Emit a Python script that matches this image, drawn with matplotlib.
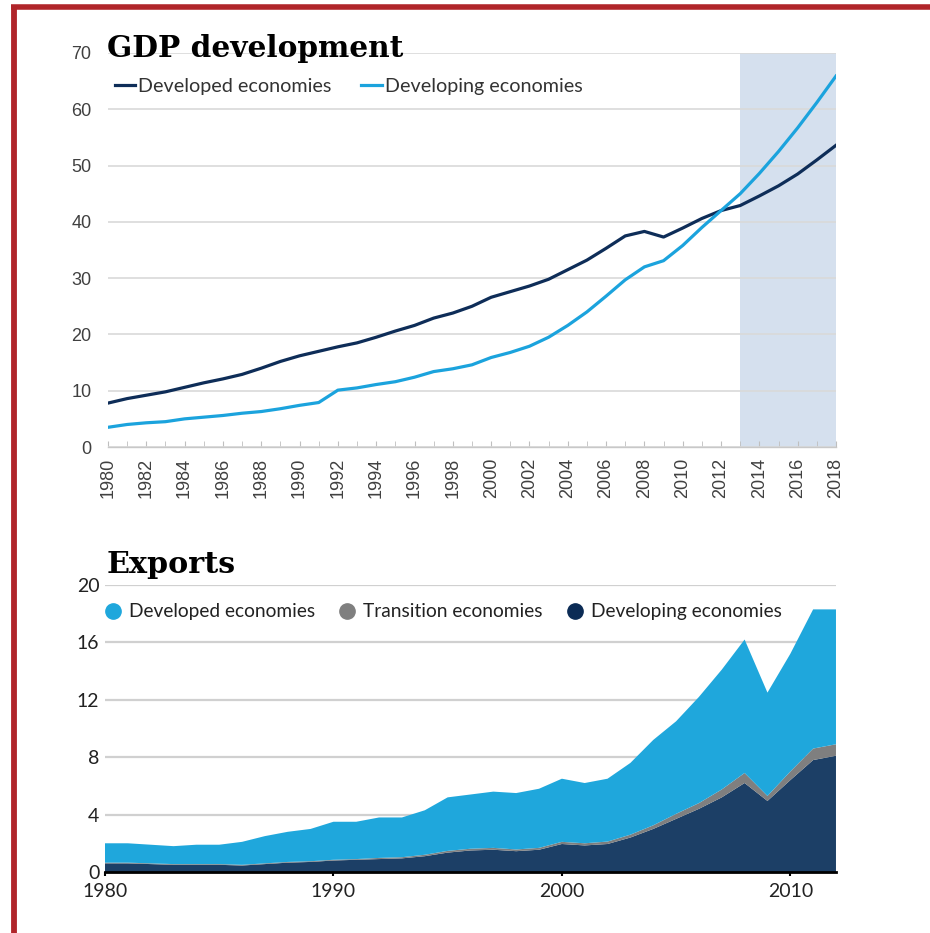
import matplotlib
matplotlib.use("Agg")
import matplotlib.pyplot as plt
import numpy as np
from matplotlib.lines import Line2D

# GDP development (top panel)
gdp_years = list(range(1980, 2019))
gdp_developed = [7.8, 8.6, 9.2, 9.8, 10.6, 11.4, 12.1, 12.9, 14.0, 15.2,
                 16.2, 17.0, 17.8, 18.5, 19.5, 20.6, 21.6, 22.9, 23.8, 25.0,
                 26.6, 27.6, 28.6, 29.8, 31.5, 33.2, 35.3, 37.5, 38.3, 37.3,
                 38.9, 40.6, 42.0, 42.9, 44.6, 46.4, 48.5, 51.0, 53.6]
gdp_developing = [3.5, 4.0, 4.3, 4.5, 5.0, 5.3, 5.6, 6.0, 6.3, 6.8,
                  7.4, 7.9, 10.1, 10.5, 11.1, 11.6, 12.4, 13.4, 13.9, 14.6,
                  15.9, 16.8, 17.9, 19.5, 21.6, 24.0, 26.8, 29.7, 32.0, 33.1,
                  35.8, 39.0, 42.0, 45.0, 48.6, 52.5, 56.7, 61.2, 65.9]
forecast_start, forecast_end = 2013, 2018

# Exports (bottom panel)
exp_years = list(range(1980, 2013))
exp_developing = [0.6, 0.6, 0.55, 0.5, 0.5, 0.5, 0.45, 0.55, 0.65, 0.7,
                  0.8, 0.85, 0.9, 0.95, 1.1, 1.35, 1.5, 1.55, 1.45, 1.55,
                  1.95, 1.85, 1.95, 2.4, 3.0, 3.7, 4.4, 5.2, 6.2, 4.95,
                  6.4, 7.8, 8.1]
exp_transition = [0.05, 0.05, 0.05, 0.05, 0.05, 0.05, 0.05, 0.05, 0.05, 0.05,
                  0.05, 0.05, 0.08, 0.08, 0.1, 0.12, 0.12, 0.13, 0.12, 0.13,
                  0.15, 0.15, 0.17, 0.2, 0.25, 0.35, 0.4, 0.55, 0.7, 0.35,
                  0.6, 0.8, 0.8]
exp_total = [2.0, 2.0, 1.9, 1.8, 1.9, 1.9, 2.1, 2.5, 2.8, 3.0,
             3.5, 3.5, 3.8, 3.8, 4.3, 5.2, 5.4, 5.6, 5.5, 5.8,
             6.5, 6.2, 6.5, 7.6, 9.2, 10.5, 12.2, 14.1, 16.2, 12.5,
             15.2, 18.3, 18.3]
exp_developed = [t - d - tr for t, d, tr in zip(exp_total, exp_developing, exp_transition)]

dark_navy = '#0e2d58'
light_blue = '#1ba3dd'
area_blue = '#1fa7dc'
area_grey = '#7f7f7f'
area_navy = '#1c3f66'

fig = plt.figure(figsize=(9.3, 9.33), dpi=100)

# red frame (left and top)
fig.add_artist(Line2D([0.015, 0.015], [0, 0.9925], color='#b0252a', lw=4.2,
                      transform=fig.transFigure, solid_capstyle='butt'))
fig.add_artist(Line2D([0.012, 1.0], [0.992, 0.992], color='#b0252a', lw=4.0,
                      transform=fig.transFigure, solid_capstyle='butt'))

# ---- top panel ----
ax1 = fig.add_axes([0.1161, 0.5209, 0.7828, 0.4223])
ax1.axvspan(forecast_start, forecast_end, color='#d5e0ee', zorder=0, lw=0)
ax1.plot(gdp_years, gdp_developed, color=dark_navy, lw=2.3, label='Developed economies', zorder=3)
ax1.plot(gdp_years, gdp_developing, color=light_blue, lw=2.3, label='Developing economies', zorder=3)
ax1.set_xlim(1980, 2018)
ax1.set_ylim(0, 70)
ax1.set_yticks(range(0, 71, 10))
ax1.set_xticks(range(1980, 2019, 2))
ax1.set_xticks(range(1980, 2019), minor=True)
ax1.grid(axis='y', color='#d9d9d9', lw=1.2, zorder=1)
ax1.set_axisbelow(True)
for s in ['top', 'left', 'right']:
    ax1.spines[s].set_visible(False)
ax1.spines['bottom'].set_color('#c8c8c8')
ax1.spines['bottom'].set_linewidth(1.0)
ax1.tick_params(axis='y', length=0, pad=12, labelsize=13, labelcolor='#404040')
ax1.tick_params(axis='x', which='both', direction='in', length=4, color='#bfbfbf',
                labelsize=13, labelcolor='#404040', labelrotation=90, pad=8)
for lab in ax1.get_xticklabels() + ax1.get_yticklabels():
    lab.set_fontfamily('Liberation Sans')
leg1 = ax1.legend(loc='center left', bbox_to_anchor=(0.009, 0.914), ncol=2, frameon=False,
                  borderpad=0, borderaxespad=0, handlelength=1.05, handletextpad=0.15,
                  columnspacing=1.5, prop={'family': 'Lato', 'size': 14.2})
for t in leg1.get_texts():
    t.set_color('#333333')
fig.text(107 / 930, 1 - 57 / 933, 'GDP development', family='DejaVu Serif', weight='bold',
         fontsize=21.3, va='baseline', ha='left')

# ---- bottom panel ----
ax2 = fig.add_axes([0.1129, 0.0654, 0.786, 0.3076])
ax2.stackplot(exp_years, exp_developing, exp_transition, exp_developed,
              colors=[area_navy, area_grey, area_blue], lw=0, zorder=2)
ax2.set_xlim(1980, 2012)
ax2.set_ylim(0, 20)
ax2.set_yticks(range(0, 21, 4))
ax2.set_xticks([1980, 1990, 2000, 2010])
ax2.grid(axis='y', color='#d0d0d0', lw=1.6, zorder=1)
ax2.set_axisbelow(True)
for s in ['top', 'left', 'right']:
    ax2.spines[s].set_visible(False)
ax2.spines['bottom'].set_color('black')
ax2.spines['bottom'].set_linewidth(2.0)
ax2.spines['bottom'].set_zorder(3)
ax2.tick_params(axis='y', length=0, pad=4, labelsize=14, labelcolor='#222222')
ax2.tick_params(axis='x', direction='out', length=3, width=1.5, color='black',
                labelsize=14, labelcolor='#222222', pad=5)
for lab in ax2.get_xticklabels() + ax2.get_yticklabels():
    lab.set_fontfamily('Lato')
handles = [Line2D([], [], ls='none', marker='o', markersize=11, color=c)
           for c in [area_blue, area_grey, '#0b2b55']]
leg2 = ax2.legend(handles, ['Developed economies', 'Transition economies', 'Developing economies'],
                  loc='center left', bbox_to_anchor=(-0.002, 0.906), ncol=3, frameon=False,
                  borderpad=0, borderaxespad=0, handlelength=1.0, handletextpad=0.35,
                  columnspacing=1.15, prop={'family': 'Lato', 'size': 13.8})
for t in leg2.get_texts():
    t.set_color('#222222')
fig.text(107 / 930, 1 - 573 / 933, 'Exports', family='DejaVu Serif', weight='bold',
         fontsize=21.7, va='baseline', ha='left')

fig.savefig('out.png', dpi=100, facecolor='white')
